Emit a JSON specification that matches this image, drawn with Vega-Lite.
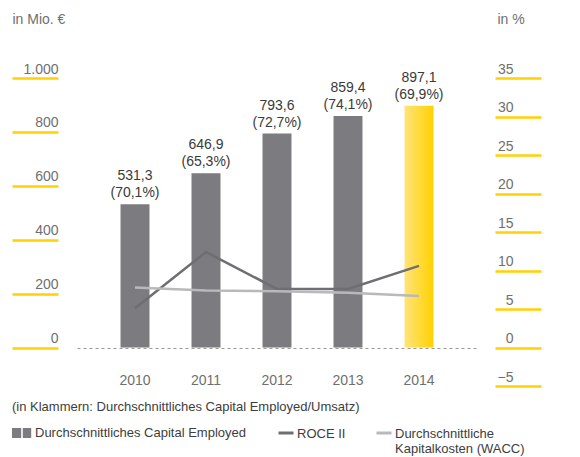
{
  "$schema": "https://vega.github.io/schema/vega-lite/v6.json",
  "width": 400,
  "height": 308,
  "autosize": {"type": "none"},
  "padding": {"left": 77, "top": 78, "right": 103, "bottom": 71},
  "background": "white",
  "config": {
    "view": {"stroke": null},
    "font": "Liberation Sans",
    "axis": {"grid": false, "labelFont": "Liberation Sans", "labelFontSize": 14, "labelColor": "#6f6f6f", "titleFont": "Liberation Sans", "titleFontSize": 14, "titleFontWeight": "normal", "titleColor": "#6f6f6f"},
    "legend": {"labelFont": "Liberation Sans", "titleFont": "Liberation Sans", "labelFontSize": 13, "titleFontSize": 13, "titleFontWeight": "normal", "labelColor": "#3d3d3d", "titleColor": "#3d3d3d", "padding": 0}
  },
  "datasets": {
    "bars": [
      {"year": "2010", "value": 531.3, "label": "531,3\n(70,1%)", "kind": "Durchschnittliches Capital Employed"},
      {"year": "2011", "value": 646.9, "label": "646,9\n(65,3%)", "kind": "Durchschnittliches Capital Employed"},
      {"year": "2012", "value": 793.6, "label": "793,6\n(72,7%)", "kind": "Durchschnittliches Capital Employed"},
      {"year": "2013", "value": 859.4, "label": "859,4\n(74,1%)", "kind": "Durchschnittliches Capital Employed"},
      {"year": "2014", "value": 897.1, "label": "897,1\n(69,9%)", "kind": "Durchschnittliches Capital Employed"}
    ],
    "lines": [
      {"year": "2010", "series": "ROCE II", "pct": 5.1},
      {"year": "2011", "series": "ROCE II", "pct": 12.4},
      {"year": "2012", "series": "ROCE II", "pct": 7.6},
      {"year": "2013", "series": "ROCE II", "pct": 7.6},
      {"year": "2014", "series": "ROCE II", "pct": 10.6},
      {"year": "2010", "series": "Durchschnittliche Kapitalkosten (WACC)", "pct": 7.8},
      {"year": "2011", "series": "Durchschnittliche Kapitalkosten (WACC)", "pct": 7.4},
      {"year": "2012", "series": "Durchschnittliche Kapitalkosten (WACC)", "pct": 7.3},
      {"year": "2013", "series": "Durchschnittliche Kapitalkosten (WACC)", "pct": 7.1},
      {"year": "2014", "series": "Durchschnittliche Kapitalkosten (WACC)", "pct": 6.7}
    ]
  },
  "encoding": {
    "x": {
      "field": "year", "type": "ordinal",
      "scale": {"type": "band", "paddingInner": 0.592, "paddingOuter": 0.613},
      "axis": {"orient": "bottom", "offset": -38, "title": null, "ticks": false, "domain": true, "domainColor": "#9a9a9a", "domainDash": [3, 3], "domainWidth": 1.2, "labelPadding": 25, "labelAngle": 0, "labelColor": "#6f6f6f"}
    }
  },
  "layer": [
    {
      "data": {"name": "bars"},
      "encoding": {
        "y": {
          "field": "value", "type": "quantitative",
          "scale": {"domain": [-142.857, 1000], "nice": false, "zero": false},
          "axis": {"orient": "left", "offset": 19, "values": [0, 200, 400, 600, 800, 1000], "domain": false, "tickSize": 46, "tickColor": "#ffd200", "tickWidth": 2.5, "labelPadding": -46, "labelAlign": "right", "labelBaseline": "bottom", "labelOffset": -2, "labelExpr": "datum.value == 1000 ? '1.000' : datum.label", "title": "in Mio. €", "titleAngle": 0, "titleX": -46, "titleY": -59, "titleAlign": "left", "titleBaseline": "middle"}
        }
      },
      "layer": [
        {
          "transform": [{"filter": "datum.year != '2014'"}],
          "mark": {"type": "bar", "fill": "#7c7b7f", "strokeWidth": 0},
          "encoding": {
            "y2": {"datum": 0},
            "stroke": {
              "field": "kind", "type": "nominal",
              "scale": {"range": ["#7c7b7f"]},
              "legend": {
                "orient": "none", "legendX": -65, "legendY": 323,
                "title": "(in Klammern: Durchschnittliches Capital Employed/Umsatz)",
                "titleLimit": 600, "titlePadding": 9, "labelLimit": 400,
                "symbolType": "M-1,-0.5H-0.08V0.5H-1Z M0.08,-0.5H0.92V0.5H0.08Z",
                "symbolSize": 400, "symbolStrokeWidth": 0, "labelOffset": 3,
                "encode": {"symbols": {"fill": {"value": {"gradient": "linear", "x1": 0, "y1": 0, "x2": 1, "y2": 0, "stops": [{"offset": 0, "color": "#7c7b7f"}, {"offset": 0.5, "color": "#7c7b7f"}, {"offset": 0.5, "color": "#ffd84a"}, {"offset": 1, "color": "#ffd84a"}]}}, "strokeWidth": {"value": 0}}}
              }
            }
          }
        },
        {
          "transform": [{"filter": "datum.year == '2014'"}],
          "mark": {"type": "bar", "color": {"gradient": "linear", "x1": 0, "y1": 0, "x2": 1, "y2": 0, "stops": [{"offset": 0, "color": "#ffe47a"}, {"offset": 1, "color": "#ffd200"}]}},
          "encoding": {"y2": {"datum": 0}}
        },
        {
          "mark": {"type": "text", "baseline": "bottom", "dy": -21, "lineBreak": "\n", "lineHeight": 17, "fontSize": 14, "color": "#3a3a3a"},
          "encoding": {"text": {"field": "label"}}
        }
      ]
    },
    {
      "data": {"name": "lines"},
      "mark": {"type": "line", "strokeWidth": 2.5},
      "encoding": {
        "y": {
          "field": "pct", "type": "quantitative",
          "scale": {"domain": [-5, 35], "nice": false, "zero": false},
          "axis": {"orient": "right", "offset": 18, "values": [-5, 0, 5, 10, 15, 20, 25, 30, 35], "domain": false, "tickSize": 46, "tickColor": "#ffd200", "tickWidth": 2.5, "labelPadding": -28, "labelAlign": "right", "labelBaseline": "bottom", "labelOffset": -2, "title": "in %", "titleAngle": 0, "titleX": 2, "titleY": -59, "titleAlign": "left", "titleBaseline": "middle"}
        },
        "stroke": {
          "field": "series", "type": "nominal",
          "scale": {"domain": ["ROCE II", "Durchschnittliche Kapitalkosten (WACC)"], "range": ["#6f6e72", "#b9b9bc"]},
          "legend": {
            "orient": "none", "legendX": 200, "legendY": 346, "direction": "horizontal", "title": null,
            "symbolType": "stroke", "symbolSize": 225, "symbolStrokeWidth": 3, "labelOffset": 2,
            "columnPadding": 24, "gridAlign": "none", "labelLimit": 300, "labelBaseline": "top",
            "labelExpr": "datum.label == 'ROCE II' ? ['ROCE II'] : ['Durchschnittliche', 'Kapitalkosten (WACC)']",
            "encode": {"labels": {"update": {"dy": {"value": -5}}}}
          }
        }
      }
    }
  ],
  "resolve": {"scale": {"y": "independent", "stroke": "independent"}, "legend": {"stroke": "independent"}}
}
